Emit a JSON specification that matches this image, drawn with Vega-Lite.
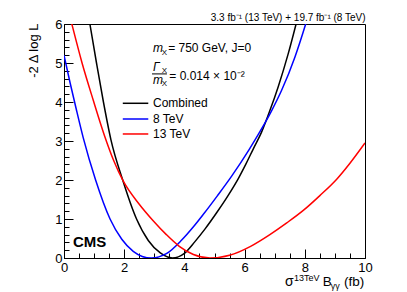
{
  "$schema": "https://vega.github.io/schema/vega-lite/v6.json",
  "width": 301,
  "height": 234,
  "autosize": "none",
  "padding": {"left": 64, "top": 24, "right": 42, "bottom": 34},
  "background": "white",
  "config": {
    "view": {"stroke": "black", "strokeWidth": 1},
    "axis": {"grid": false, "domainColor": "black", "tickColor": "black", "labelColor": "black", "labelFont": "Liberation Sans", "titleFont": "Liberation Sans", "titleColor": "black", "labelOverlap": false},
    "text": {"font": "Liberation Sans", "color": "black"}
  },
  "datasets": {
    "curves": [
      {"s": "Combined", "x": 0.7, "y": 6.75}, {"s": "Combined", "x": 0.86, "y": 6.0}, {"s": "Combined", "x": 1.08, "y": 5.0}, {"s": "Combined", "x": 1.31, "y": 4.0}, {"s": "Combined", "x": 1.56, "y": 3.03}, {"s": "Combined", "x": 1.95, "y": 2.0}, {"s": "Combined", "x": 2.41, "y": 1.0}, {"s": "Combined", "x": 2.8, "y": 0.45}, {"s": "Combined", "x": 3.2, "y": 0.13}, {"s": "Combined", "x": 3.6, "y": 0.0}, {"s": "Combined", "x": 4.0, "y": 0.12}, {"s": "Combined", "x": 4.35, "y": 0.42}, {"s": "Combined", "x": 4.7, "y": 0.76}, {"s": "Combined", "x": 5.07, "y": 1.16}, {"s": "Combined", "x": 5.45, "y": 1.6}, {"s": "Combined", "x": 5.8, "y": 2.05}, {"s": "Combined", "x": 6.05, "y": 2.42}, {"s": "Combined", "x": 6.29, "y": 2.8}, {"s": "Combined", "x": 6.56, "y": 3.22}, {"s": "Combined", "x": 6.84, "y": 3.78}, {"s": "Combined", "x": 7.12, "y": 4.4}, {"s": "Combined", "x": 7.45, "y": 5.24}, {"s": "Combined", "x": 7.71, "y": 6.0}, {"s": "Combined", "x": 7.95, "y": 6.75},
      {"s": "8 TeV", "x": 0.0, "y": 5.2}, {"s": "8 TeV", "x": 0.2, "y": 4.5}, {"s": "8 TeV", "x": 0.4, "y": 3.84}, {"s": "8 TeV", "x": 0.64, "y": 3.08}, {"s": "8 TeV", "x": 1.05, "y": 2.0}, {"s": "8 TeV", "x": 1.53, "y": 1.0}, {"s": "8 TeV", "x": 1.92, "y": 0.48}, {"s": "8 TeV", "x": 2.3, "y": 0.17}, {"s": "8 TeV", "x": 2.6, "y": 0.04}, {"s": "8 TeV", "x": 2.9, "y": 0.0}, {"s": "8 TeV", "x": 3.4, "y": 0.11}, {"s": "8 TeV", "x": 3.91, "y": 0.46}, {"s": "8 TeV", "x": 4.3, "y": 0.8}, {"s": "8 TeV", "x": 4.63, "y": 1.12}, {"s": "8 TeV", "x": 5.1, "y": 1.6}, {"s": "8 TeV", "x": 5.57, "y": 2.1}, {"s": "8 TeV", "x": 6.15, "y": 2.78}, {"s": "8 TeV", "x": 6.48, "y": 3.2}, {"s": "8 TeV", "x": 6.9, "y": 3.78}, {"s": "8 TeV", "x": 7.23, "y": 4.3}, {"s": "8 TeV", "x": 7.67, "y": 5.15}, {"s": "8 TeV", "x": 8.03, "y": 6.0}, {"s": "8 TeV", "x": 8.3, "y": 6.7},
      {"s": "13 TeV", "x": 0.0, "y": 6.8}, {"s": "13 TeV", "x": 0.26, "y": 6.0}, {"s": "13 TeV", "x": 0.6, "y": 5.0}, {"s": "13 TeV", "x": 0.97, "y": 4.05}, {"s": "13 TeV", "x": 1.34, "y": 3.15}, {"s": "13 TeV", "x": 1.65, "y": 2.5}, {"s": "13 TeV", "x": 1.97, "y": 1.97}, {"s": "13 TeV", "x": 2.5, "y": 1.38}, {"s": "13 TeV", "x": 2.97, "y": 0.95}, {"s": "13 TeV", "x": 3.4, "y": 0.6}, {"s": "13 TeV", "x": 3.83, "y": 0.3}, {"s": "13 TeV", "x": 4.3, "y": 0.09}, {"s": "13 TeV", "x": 4.85, "y": 0.0}, {"s": "13 TeV", "x": 5.5, "y": 0.07}, {"s": "13 TeV", "x": 6.2, "y": 0.3}, {"s": "13 TeV", "x": 6.84, "y": 0.6}, {"s": "13 TeV", "x": 7.4, "y": 0.9}, {"s": "13 TeV", "x": 7.95, "y": 1.22}, {"s": "13 TeV", "x": 8.5, "y": 1.6}, {"s": "13 TeV", "x": 9.06, "y": 2.02}, {"s": "13 TeV", "x": 9.5, "y": 2.43}, {"s": "13 TeV", "x": 10.0, "y": 2.95}
    ]
  },
  "resolve": {"axis": {"x": "independent", "y": "independent"}},
  "layer": [
    {
      "layer": [
        {
          "data": {"name": "curves"},
          "mark": {"type": "line", "clip": true, "interpolate": "monotone", "strokeWidth": 1.5},
          "encoding": {
            "x": {"field": "x", "type": "quantitative", "scale": {"domain": [0, 10], "nice": false, "zero": false},
              "axis": {"orient": "bottom", "title": null, "values": [0, 2, 4, 6, 8, 10], "format": "d", "tickSize": -9,
                "labelPadding": 12, "labelFontSize": 13, "labelOverlap": false, "labelFlush": false, "labelBaseline": "top"}},
            "y": {"field": "y", "type": "quantitative", "scale": {"domain": [0, 6], "nice": false, "zero": false},
              "axis": {"orient": "left", "values": [0, 2, 4, 6], "format": "d", "tickSize": -9,
                "labelPadding": 11, "labelFontSize": 13, "labelOverlap": false, "labelFlush": false, "labelAlign": "right", "labelBaseline": "middle",
                "title": "-2 Δ log L", "titleFontSize": 13, "titleFontWeight": "normal", "titleX": -27, "titleY": -1, "titleAlign": "right", "titleAngle": -90, "titleBaseline": "alphabetic", "titleAnchor": "end"}},
            "color": {"field": "s", "type": "nominal", "scale": {"domain": ["Combined", "8 TeV", "13 TeV"], "range": ["#000000", "#0000ff", "#ff0000"]}, "legend": null}
          }
        },
        {"data": {"values": [{}]}, "mark": {"type": "text", "text": "3.3 fb⁻¹ (13 TeV) + 19.7 fb⁻¹ (8 TeV)", "align": "right", "baseline": "alphabetic", "fontSize": 10},
          "encoding": {"x": {"datum": 10.02, "type": "quantitative"}, "y": {"datum": 6.08, "type": "quantitative"}}},
        {"data": {"values": [{}]}, "mark": {"type": "text", "text": "CMS", "align": "left", "baseline": "alphabetic", "fontSize": 15, "fontWeight": "bold"},
          "encoding": {"x": {"datum": 0.3, "type": "quantitative"}, "y": {"datum": 0.27, "type": "quantitative"}}},
        {"data": {"values": [{}]}, "mark": {"type": "text", "text": "m", "align": "left", "baseline": "alphabetic", "fontSize": 12, "fontStyle": "italic"},
          "encoding": {"x": {"datum": 2.957, "type": "quantitative"}, "y": {"datum": 5.27, "type": "quantitative"}}},
        {"data": {"values": [{}]}, "mark": {"type": "text", "text": "X", "align": "left", "baseline": "alphabetic", "fontSize": 8},
          "encoding": {"x": {"datum": 3.25, "type": "quantitative"}, "y": {"datum": 5.2, "type": "quantitative"}}},
        {"data": {"values": [{}]}, "mark": {"type": "text", "text": "= 750 GeV, J=0", "align": "left", "baseline": "alphabetic", "fontSize": 12},
          "encoding": {"x": {"datum": 3.46, "type": "quantitative"}, "y": {"datum": 5.27, "type": "quantitative"}}},
        {"data": {"values": [{}]}, "mark": {"type": "text", "text": "Γ", "align": "left", "baseline": "alphabetic", "fontSize": 12, "fontStyle": "italic"},
          "encoding": {"x": {"datum": 2.957, "type": "quantitative"}, "y": {"datum": 4.8, "type": "quantitative"}}},
        {"data": {"values": [{}]}, "mark": {"type": "text", "text": "X", "align": "left", "baseline": "alphabetic", "fontSize": 8},
          "encoding": {"x": {"datum": 3.25, "type": "quantitative"}, "y": {"datum": 4.74, "type": "quantitative"}}},
        {"data": {"values": [{}]}, "mark": {"type": "rule", "color": "black", "strokeWidth": 1},
          "encoding": {"x": {"datum": 2.924, "type": "quantitative"}, "x2": {"datum": 3.42}, "y": {"datum": 4.72, "type": "quantitative"}}},
        {"data": {"values": [{}]}, "mark": {"type": "text", "text": "m", "align": "left", "baseline": "alphabetic", "fontSize": 12, "fontStyle": "italic"},
          "encoding": {"x": {"datum": 2.957, "type": "quantitative"}, "y": {"datum": 4.47, "type": "quantitative"}}},
        {"data": {"values": [{}]}, "mark": {"type": "text", "text": "X", "align": "left", "baseline": "alphabetic", "fontSize": 8},
          "encoding": {"x": {"datum": 3.25, "type": "quantitative"}, "y": {"datum": 4.4, "type": "quantitative"}}},
        {"data": {"values": [{}]}, "mark": {"type": "text", "text": "= 0.014 × 10⁻²", "align": "left", "baseline": "alphabetic", "fontSize": 12},
          "encoding": {"x": {"datum": 3.5, "type": "quantitative"}, "y": {"datum": 4.56, "type": "quantitative"}}},
        {"data": {"values": [{}]}, "mark": {"type": "rule", "color": "#000000", "strokeWidth": 1.5},
          "encoding": {"x": {"datum": 1.953, "type": "quantitative"}, "x2": {"datum": 2.8}, "y": {"datum": 3.967, "type": "quantitative"}}},
        {"data": {"values": [{}]}, "mark": {"type": "rule", "color": "#0000ff", "strokeWidth": 1.5},
          "encoding": {"x": {"datum": 1.953, "type": "quantitative"}, "x2": {"datum": 2.8}, "y": {"datum": 3.564, "type": "quantitative"}}},
        {"data": {"values": [{}]}, "mark": {"type": "rule", "color": "#ff0000", "strokeWidth": 1.5},
          "encoding": {"x": {"datum": 1.953, "type": "quantitative"}, "x2": {"datum": 2.8}, "y": {"datum": 3.18, "type": "quantitative"}}},
        {"data": {"values": [{}]}, "mark": {"type": "text", "text": "Combined", "align": "left", "baseline": "middle", "fontSize": 12},
          "encoding": {"x": {"datum": 2.957, "type": "quantitative"}, "y": {"datum": 3.967, "type": "quantitative"}}},
        {"data": {"values": [{}]}, "mark": {"type": "text", "text": "8 TeV", "align": "left", "baseline": "middle", "fontSize": 12},
          "encoding": {"x": {"datum": 2.957, "type": "quantitative"}, "y": {"datum": 3.564, "type": "quantitative"}}},
        {"data": {"values": [{}]}, "mark": {"type": "text", "text": "13 TeV", "align": "left", "baseline": "middle", "fontSize": 12},
          "encoding": {"x": {"datum": 2.957, "type": "quantitative"}, "y": {"datum": 3.18, "type": "quantitative"}}},
        {"data": {"values": [{}]}, "mark": {"type": "text", "text": "σ", "align": "left", "baseline": "alphabetic", "fontSize": 14},
          "encoding": {"x": {"datum": 7.34, "type": "quantitative"}, "y": {"datum": -0.73, "type": "quantitative"}}},
        {"data": {"values": [{}]}, "mark": {"type": "text", "text": "13TeV", "align": "left", "baseline": "alphabetic", "fontSize": 9},
          "encoding": {"x": {"datum": 7.64, "type": "quantitative"}, "y": {"datum": -0.58, "type": "quantitative"}}},
        {"data": {"values": [{}]}, "mark": {"type": "text", "text": "B", "align": "left", "baseline": "alphabetic", "fontSize": 13.5},
          "encoding": {"x": {"datum": 8.6, "type": "quantitative"}, "y": {"datum": -0.73, "type": "quantitative"}}},
        {"data": {"values": [{}]}, "mark": {"type": "text", "text": "γγ", "align": "left", "baseline": "alphabetic", "fontSize": 9},
          "encoding": {"x": {"datum": 8.86, "type": "quantitative"}, "y": {"datum": -0.8, "type": "quantitative"}}},
        {"data": {"values": [{}]}, "mark": {"type": "text", "text": "(fb)", "align": "left", "baseline": "alphabetic", "fontSize": 13.5},
          "encoding": {"x": {"datum": 9.3, "type": "quantitative"}, "y": {"datum": -0.73, "type": "quantitative"}}}
      ]
    },
    {
      "data": {"name": "curves"},
      "mark": {"type": "point", "opacity": 0, "clip": true},
      "encoding": {
        "x": {"field": "x", "type": "quantitative",
          "axis": {"orient": "bottom", "title": null, "labels": false, "domain": false, "tickSize": -5,
            "values": [0.5, 1, 1.5, 2.5, 3, 3.5, 4.5, 5, 5.5, 6.5, 7, 7.5, 8.5, 9, 9.5]}},
        "y": {"field": "y", "type": "quantitative",
          "axis": {"orient": "left", "title": null, "labels": false, "domain": false, "tickSize": -5,
            "values": [0.2, 0.4, 0.6, 0.8, 1.2, 1.4, 1.6, 1.8, 2.2, 2.4, 2.6, 2.8, 3.2, 3.4, 3.6, 3.8, 4.2, 4.4, 4.6, 4.8, 5.2, 5.4, 5.6, 5.8]}}
      }
    },
    {
      "data": {"name": "curves"},
      "mark": {"type": "point", "opacity": 0, "clip": true},
      "encoding": {
        "x": {"field": "x", "type": "quantitative", "axis": null},
        "y": {"field": "y", "type": "quantitative",
          "axis": {"orient": "left", "title": null, "domain": false, "tickSize": -9, "values": [1, 3, 5], "format": "d",
            "labelPadding": 11, "labelFontSize": 13, "labelOverlap": false, "labelFlush": false, "labelAlign": "right", "labelBaseline": "middle"}}
      }
    }
  ]
}
